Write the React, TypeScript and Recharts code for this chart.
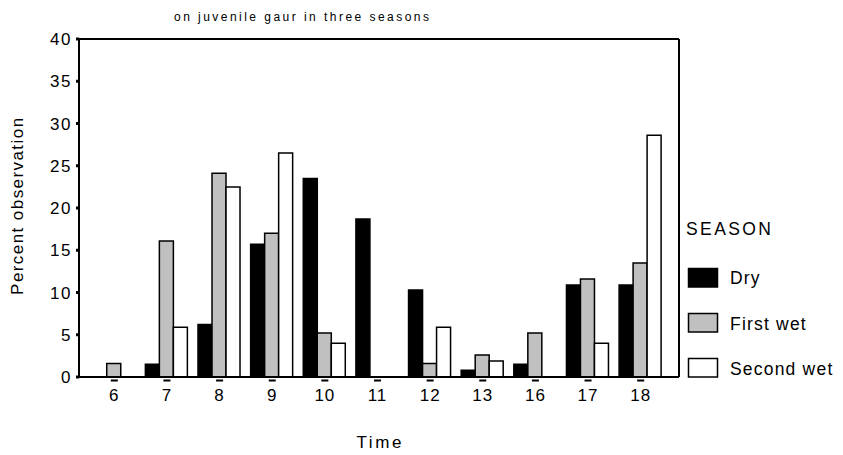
import { BarChart, Bar, XAxis, YAxis, Legend } from "recharts";

const times = ["6", "7", "8", "9", "10", "11", "12", "13", "16", "17", "18"];
const dry = [0, 1.5, 6.2, 15.7, 23.5, 18.7, 10.3, 0.8, 1.5, 10.9, 10.9];
const firstWet = [1.6, 16.1, 24.1, 17.0, 5.2, 0, 1.6, 2.6, 5.2, 11.6, 13.5];
const secondWet = [0, 5.9, 22.5, 26.5, 4.0, 0, 5.9, 1.9, 0, 4.0, 28.6];
const yTicks = [0, 5, 10, 15, 20, 25, 30, 35, 40];

const seasons = [
  { key: "dry", name: "Dry", fill: "#000000" },
  { key: "firstWet", name: "First wet", fill: "#c0c0c0" },
  { key: "secondWet", name: "Second wet", fill: "#ffffff" },
];

const font = "'Liberation Sans', Arial, Helvetica, sans-serif";

const data = times.map((t, i) => ({
  time: t,
  dry: dry[i],
  firstWet: firstWet[i],
  secondWet: secondWet[i],
}));

function TimeTick({ x, y, payload }: any) {
  return (
    <g>
      <rect x={x - 3.5} y={y + 2.5} width={7} height={2} fill="#000" />
      <text
        x={x}
        y={y + 24}
        textAnchor="middle"
        fontSize={17}
        letterSpacing={1}
        fill="#000"
        fontFamily={font}
      >
        {payload.value}
      </text>
    </g>
  );
}

function SeasonLegend() {
  return (
    <svg width={157} height={170} style={{ display: "block" }}>
      <text x={0} y={20} fontSize={17.5} fontFamily={font} fill="#000" textLength={85}>
        SEASON
      </text>
      {seasons.map((s, i) => (
        <g key={s.key}>
          <rect
            x={2.5}
            y={53.5 + i * 45}
            width={29}
            height={18.5}
            fill={s.fill}
            stroke="#000"
            strokeWidth={1.5}
          />
          <text
            x={44}
            y={69 + i * 45.5}
            fontSize={17.5}
            letterSpacing={1.2}
            fontFamily={font}
            fill="#000"
          >
            {s.name}
          </text>
        </g>
      ))}
    </svg>
  );
}

export default function App() {
  return (
    <div style={{ position: "absolute", left: 0, top: 0 }}>
      <BarChart
        width={843}
        height={455}
        data={data}
        margin={{ top: 38, right: 163, bottom: 48, left: 0 }}
        barCategoryGap="9%"
        barGap={0}
      >
        <XAxis
          dataKey="time"
          height={30}
          interval={0}
          padding={{ left: 9, right: 12 }}
          axisLine={{ stroke: "#000", strokeWidth: 2 }}
          tickLine={false}
          tickSize={0}
          tickMargin={0}
          tick={<TimeTick />}
        />
        {/* frame: top and right edges */}
        <XAxis
          xAxisId="top"
          orientation="top"
          dataKey="time"
          height={1}
          tick={false}
          tickLine={false}
          axisLine={{ stroke: "#000", strokeWidth: 2 }}
        />
        <YAxis
          width={79}
          domain={[0, 40]}
          ticks={yTicks}
          interval={0}
          tickSize={3}
          tickMargin={4}
          axisLine={{ stroke: "#000", strokeWidth: 2 }}
          tickLine={{ stroke: "#000", strokeWidth: 3 }}
          tick={{ fill: "#000", fontSize: 17, fontFamily: font, letterSpacing: 1.5 }}
        />
        <YAxis
          yAxisId="right"
          orientation="right"
          width={1}
          tick={false}
          tickLine={false}
          axisLine={{ stroke: "#000", strokeWidth: 2 }}
        />
        {seasons.map((s) => (
          <Bar
            key={s.key}
            dataKey={s.key}
            name={s.name}
            fill={s.fill}
            stroke="#000"
            strokeWidth={1.5}
            isAnimationActive={false}
          />
        ))}
        <Legend
          layout="horizontal"
          verticalAlign="middle"
          align="center"
          wrapperStyle={{ left: 686, top: 215, width: 157, height: 170 }}
          content={<SeasonLegend />}
        />
        <text
          x={174}
          y={20.7}
          fontSize={12}
          fontFamily={font}
          fill="#000"
          textLength={255}
          lengthAdjust="spacing"
        >
          on juvenile gaur in three seasons
        </text>
        <text
          x={23.5}
          y={206.4}
          transform="rotate(-90, 23.5, 206.4)"
          textAnchor="middle"
          fontSize={17}
          fontFamily={font}
          fill="#000"
          textLength={177}
          lengthAdjust="spacing"
        >
          Percent observation
        </text>
        <text
          x={379}
          y={448}
          textAnchor="middle"
          fontSize={17}
          fontFamily={font}
          fill="#000"
          textLength={45}
          lengthAdjust="spacing"
        >
          Time
        </text>
      </BarChart>
    </div>
  );
}
